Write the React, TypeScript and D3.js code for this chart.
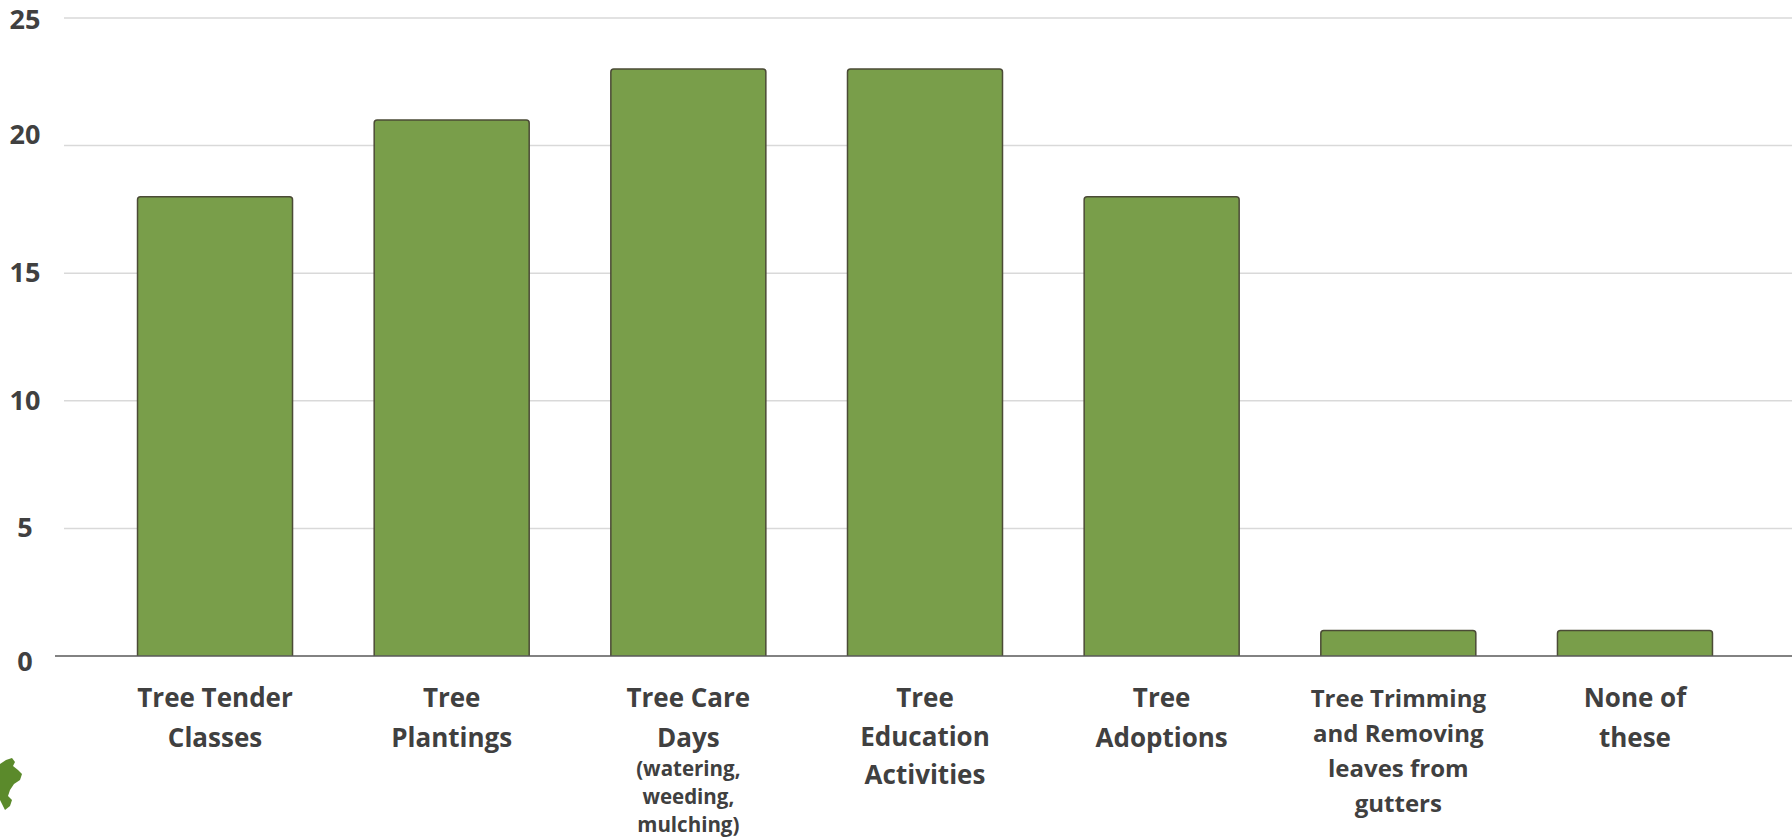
import { useEffect } from 'react';
import * as d3 from 'd3';

// data
const categories = [
  'Tree Tender Classes',
  'Tree Plantings',
  'Tree Care Days',
  'Tree Education Activities',
  'Tree Adoptions',
  'Tree Trimming and Removing leaves from gutters',
  'None of these',
];
const values = [18, 21, 23, 23, 18, 1, 1];
const labelLines = [
  ['Tree Tender', 'Classes'],
  ['Tree', 'Plantings'],
  ['Tree Care', 'Days'],
  ['Tree', 'Education', 'Activities'],
  ['Tree', 'Adoptions'],
  ['Tree Trimming', 'and Removing', 'leaves from', 'gutters'],
  ['None of', 'these'],
];
const subLines = [[], [], ['(watering,', 'weeding,', 'mulching)'], [], [], [], []];
const yTicks = [0, 5, 10, 15, 20, 25];

const W = 1792;
const H = 840;
const FONT = "'Open Sans', 'DejaVu Sans', sans-serif";
const TEXT = '#404040';

// small vertical nudge of each y label relative to its gridline
const tickNudge = (t: number) => (t === 0 ? 15 : t === 25 ? 11 : t === 20 ? -2 : 9);

export default function App() {
  useEffect(() => {
    document.body.style.margin = '0';
  }, []);

  const x = d3
    .scaleBand<string>()
    .domain(categories)
    .range([96.7, 1753.3])
    .paddingInner(0.345)
    .paddingOuter(0.1725);

  const y = d3.scaleLinear().domain([0, 25]).range([656, 18]);
  const r = 3;

  return (
    <svg width={W} height={H} style={{ display: 'block', background: '#fff' }}>
      {/* gridlines */}
      {yTicks
        .filter(t => t > 0)
        .map(t => (
          <line key={t} x1={64} x2={W} y1={y(t)} y2={y(t)} stroke="#d9d9d9" strokeWidth={1.5} />
        ))}

      {/* y labels */}
      {yTicks.map(t => (
        <text
          key={t}
          x={25}
          y={y(t) + tickNudge(t)}
          textAnchor="middle"
          fontFamily={FONT}
          fontWeight={700}
          fontSize={27}
          fill={TEXT}
        >
          {t}
        </text>
      ))}

      {/* bars */}
      {categories.map((c, i) => {
        const x0 = x(c)!;
        const x1 = x0 + x.bandwidth();
        const top = y(values[i]);
        return (
          <path
            key={c}
            d={`M${x0},${y(0)} V${top + r} Q${x0},${top} ${x0 + r},${top} H${x1 - r} Q${x1},${top} ${x1},${top + r} V${y(0)}`}
            fill="#799e4a"
            stroke="#4b4b36"
            strokeWidth={1.5}
          />
        );
      })}

      {/* baseline */}
      <line x1={55} x2={W} y1={y(0)} y2={y(0)} stroke="#595959" strokeWidth={1.5} />

      {/* x labels */}
      {categories.map((c, i) => {
        const cx = x(c)! + x.bandwidth() / 2;
        const small = i === 5;
        const fs = small ? 24 : 26;
        const lh = small ? 35 : i === 3 ? 38.5 : 40;
        const lines = labelLines[i];
        return (
          <g key={c} fontFamily={FONT} fontWeight={700} fill={TEXT} textAnchor="middle">
            {lines.map((l, j) => (
              <text key={j} x={cx} y={707 + j * lh} fontSize={fs}>
                {l}
              </text>
            ))}
            {subLines[i].map((l, j) => (
              <text key={'s' + j} x={cx} y={776 + j * 28} fontSize={20.5}>
                {l}
              </text>
            ))}
          </g>
        );
      })}

      {/* cropped logo fragment, bottom left */}
      <path
        d="M0,764 L6,760 L12,758 L15,762 L13,766 L18,770 L22,774 L20,780 L14,784 L10,790 L8,796 L12,800 L10,806 L5,810 L2,804 L0,800 Z"
        fill="#5b8a2b"
      />
    </svg>
  );
}
